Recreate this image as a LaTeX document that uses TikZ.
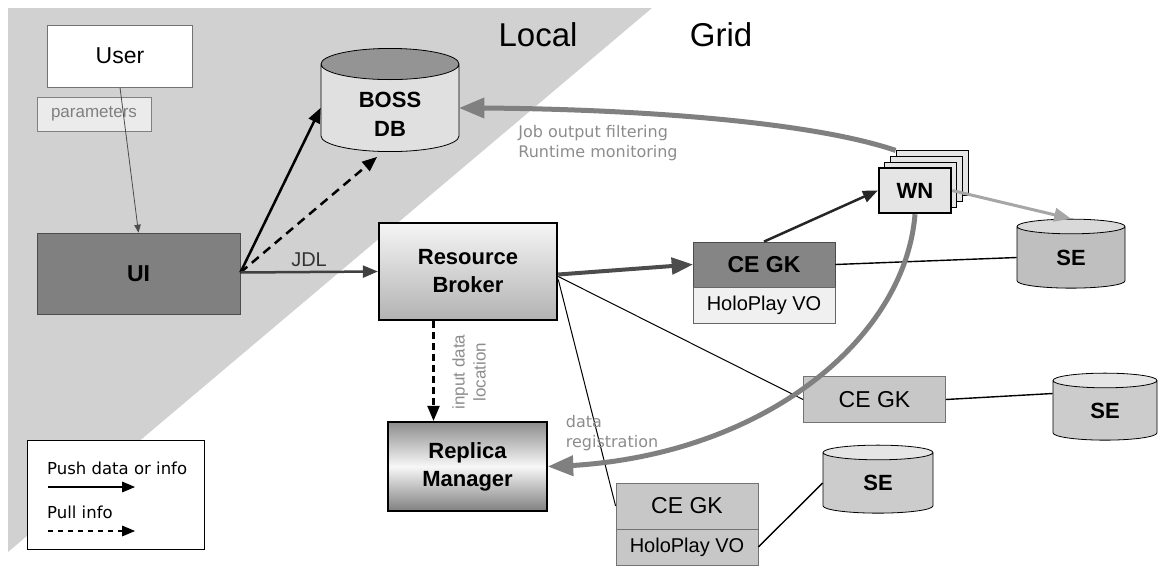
\documentclass[tikz,border=0pt]{standalone}
\usepackage{fontspec}
\setmainfont{Liberation Sans}
\newfontfamily\legendfont{DejaVu Sans}
\usetikzlibrary{arrows,shapes.geometric}

\tikzset{
  userbox/.style={draw=black!55, fill=white, line width=0.8pt,
    minimum width=145pt, minimum height=62pt},
  parambox/.style={draw=black!50, fill=black!8, text=black!50, line width=0.8pt,
    minimum width=114pt, minimum height=34pt, font=\fontsize{17}{20}\selectfont},
  uibox/.style={draw=black!70, fill=black!50, line width=0.8pt,
    minimum width=203pt, minimum height=81pt, font=\fontsize{23}{26}\selectfont\bfseries},
  brokerbox/.style={draw, line width=2.5pt, top color=black!4, bottom color=black!30,
    minimum width=178pt, minimum height=97pt, align=center,
    font=\fontsize{22}{28}\selectfont\bfseries},
  replicabox/.style={draw, line width=2.5pt, top color=black!45, bottom color=black!50,
    middle color=black!3, minimum width=159pt, minimum height=89pt, align=center,
    font=\fontsize{22}{28}\selectfont\bfseries},
  cedark/.style={draw=black!70, fill=black!48, line width=0.8pt,
    minimum width=142pt, minimum height=45pt, font=\fontsize{23}{26}\selectfont\bfseries},
  cegray/.style={draw=black!55, fill=black!22, line width=0.8pt,
    minimum width=142pt, minimum height=46pt, font=\fontsize{23}{26}\selectfont},
  volight/.style={draw=black!60, fill=black!6, line width=0.8pt,
    minimum width=142pt, minimum height=36pt, font=\fontsize{20}{24}\selectfont},
  wnbox/.style={draw, fill=black!10, line width=1pt, minimum width=72pt, minimum height=45pt},
  store/.style={cylinder, shape border rotate=90, draw, line width=0.8pt, aspect=0.5,
    align=center, cylinder uses custom fill, cylinder end fill=black!15,
    cylinder body fill=black!25, font=\fontsize{22}{26}\selectfont\bfseries},
  graytext/.style={text=black!45, align=left, font=\legendfont\fontsize{16}{20}\selectfont},
  push/.style={->, line width=2.5pt},
  pull/.style={->, line width=2.5pt, dash pattern=on 9pt off 6pt},
  plainline/.style={line width=1.4pt},
  feedback/.style={->, line width=5pt, draw=black!50},
}

\begin{document}
\begin{tikzpicture}[x=1pt,y=-1pt,>=triangle 45]
  \tikzstyle{every node} = [inner sep = 0pt];
  \useasboundingbox (0,0) rectangle (1158,565);

  % local side
  \fill[black!18] (8,8) -- (652,8) -- (8,552) -- cycle;
  \node (local) at (538,35) {\fontsize{33}{36}\selectfont Local};
  \node (grid) at (721,35) {\fontsize{33}{36}\selectfont Grid};

  % nodes
  \node[userbox] (user) at (120,56) {\fontsize{23}{26}\selectfont User};
  \node[parambox] (params) at (94,114) {parameters};
  \node[uibox] (ui) at (138.5,273.5) {UI};
  \node[store, minimum width=138pt, minimum height=90pt,
    cylinder end fill=black!42, cylinder body fill=black!12,
    font=\fontsize{22}{29}\selectfont\bfseries] (boss) at (390,108) {\rule{0pt}{27pt}BOSS\\DB};
  \node[brokerbox] (rb) at (468,271.5) {Resource\\Broker};
  \node[replicabox] (rm) at (467.5,466.5) {Replica\\Manager};

  \foreach \i in {3,2,1}{
    \node[wnbox] (wnc\i) at ({915+5.7*\i},{190.5-5.7*\i}) {};
  }
  \node[wnbox, line width=2.5pt, font=\fontsize{22}{26}\selectfont\bfseries] (wn) at (915,190.5) {WN};

  \node[cedark] (ce1) at (764,264.5) {CE GK};
  \node[volight] (vo1) at (764,305) {HoloPlay VO};
  \node[cegray] (ce2) at (874.5,399.5) {CE GK};
  \node[cegray] (ce3) at (687,506) {CE GK};
  \node[volight, fill=black!22, draw=black!55] (vo3) at (687,547) {HoloPlay VO};

  \node[store, minimum width=108pt, minimum height=69pt] (se1) at (1071,257.5) {SE};
  \node[store, minimum width=104pt, minimum height=67pt,
    cylinder end fill=black!10, cylinder body fill=black!20] (se2) at (1105,410.5) {SE};
  \node[store, minimum width=110pt, minimum height=68pt,
    cylinder end fill=black!10, cylinder body fill=black!20] (se3) at (878,483) {SE};

  % connectors
  \draw[->, line width=0.8pt, black!70] (user.south) -- (ui.north);
  \coordinate (uiout) at ([yshift=1pt]ui.east);
  \draw[push] (uiout) -- (boss.west);
  \draw[pull] (uiout) -- ([xshift=-13pt,yshift=-5pt]boss.south);
  \draw[push, black!75] (uiout) -- node[above=4pt, font=\fontsize{20}{24}\selectfont, black!80] (jdl) {JDL} (rb.west);

  \draw[feedback] (wnc3.north west) .. controls (800,118) and (600,108) .. (boss.east);
  \node[graytext] (jobtxt) at (598,143) {Job output filtering\\Runtime monitoring};

  \coordinate (rmin) at ([xshift=-34pt]rm.north);
  \draw[pull, dash pattern=on 7pt off 4pt] (rb.south -| rmin) -- (rmin);
  \node[text=black!45, align=center, rotate=90, font=\fontsize{17}{21}\selectfont] (inputtxt) at (469,372) {input data\\location};

  \draw[->, line width=4pt, black!70] ([yshift=-3pt]rb.east) -- (ce1.west);
  \draw[push, black!85] (ce1.north) -- (wn.west);
  \draw[->, line width=3pt, black!35] (wn.east) -- (se1.north);
  \draw[plainline] (ce1.east) -- (se1.west);

  \draw[plainline, line width=1pt] ([yshift=-5pt]rb.east) -- (ce2.west);
  \draw[plainline, line width=1pt] ([yshift=-8pt]rb.east) -- (ce3.west);
  \draw[plainline] (ce2.east) -- ([yshift=17pt]se2.west);
  \draw[plainline] (vo3.east) -- (se3.west);

  \draw[feedback] (wn.south) .. controls (905,340) and (760,460) .. (rm.east);
  \node[graytext] (regtxt) at (612,433) {data\\registration};

  % legend
  \draw[line width=0.8pt, fill=white] (27,440) rectangle (204,549);
  \node[anchor=west, font=\legendfont\fontsize{16.5}{18}\selectfont] (pushtxt) at (47,468) {Push data or info};
  \node[anchor=west, font=\legendfont\fontsize{16.5}{18}\selectfont] (pulltxt) at (47,512) {Pull info};
  \coordinate (pusha) at (48,487);
  \coordinate (pushb) at (135,487);
  \coordinate (pulla) at (48,531);
  \coordinate (pullb) at (135,531);
  \draw[->, line width=2pt] (pusha) -- (pushb);
  \draw[->, line width=2pt, dash pattern=on 5pt off 5pt] (pulla) -- (pullb);
\end{tikzpicture}
\end{document}
